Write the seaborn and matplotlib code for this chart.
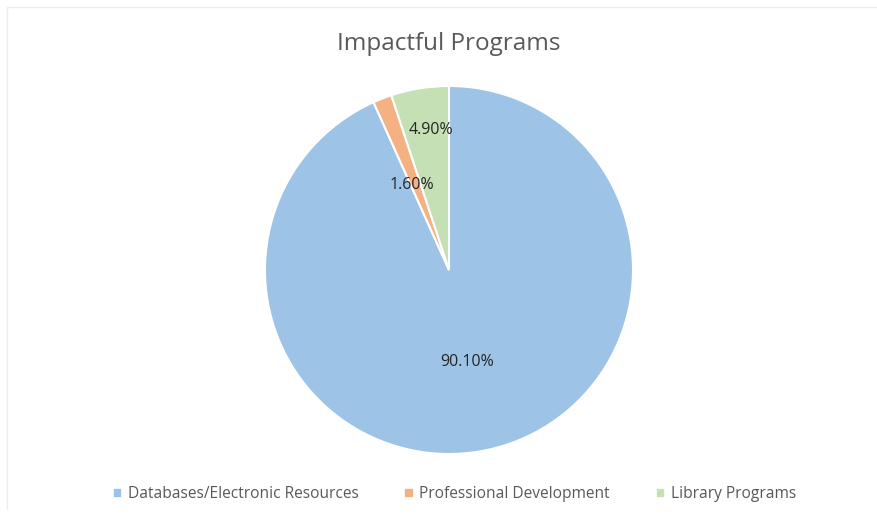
import matplotlib
matplotlib.use("Agg")
import matplotlib.pyplot as plt
import seaborn as sns

# data
programs = ["Databases/Electronic Resources", "Professional Development", "Library Programs"]
shares = [90.10, 1.60, 4.90]
colors = ["#9DC3E6", "#F4B183", "#C5E0B4"]

sns.set_theme(style="white")
plt.rcParams['font.family'] = ['Open Sans', 'DejaVu Sans']

fig = plt.figure(figsize=(8.78, 5.19), dpi=100)
fig.patch.set_facecolor("white")
# faint frame of the exported chart area (top and left only visible)
fig.add_artist(plt.Line2D([0.008, 0.008], [0.02, 0.986], transform=fig.transFigure,
                          color="#EDEDED", linewidth=1))
fig.add_artist(plt.Line2D([0.008, 0.999], [0.986, 0.986], transform=fig.transFigure,
                          color="#EDEDED", linewidth=1))

ax = fig.add_axes([265 / 878, 65 / 519, 368 / 878, 368 / 519])
vals = iter(shares)
wedges, texts, autotexts = ax.pie(shares, colors=colors, startangle=90, counterclock=False,
                                  autopct=lambda p: f"{next(vals):.2f}%", pctdistance=0.55,
                                  wedgeprops=dict(edgecolor="white", linewidth=1.5),
                                  textprops=dict(fontsize=11.5, color="#262626"))
# label placement similar to the original
label_pos = [(0.10, -0.50), (-0.20, 0.46), (-0.10, 0.76)]
for t, p in zip(autotexts, label_pos):
    t.set_position(p)
ax.set_xlim(-1, 1)
ax.set_ylim(-1, 1)
ax.set_aspect("equal")

fig.text(0.511, 0.915, "Impactful Programs", ha="center", va="center", fontsize=17.5, color="#595959")

handles = [plt.Rectangle((0, 0), 1, 1, color=c) for c in colors]
fig.legend(handles, programs, loc="center", bbox_to_anchor=(0.518, 0.048), ncol=3, frameon=False,
           fontsize=11.2, labelcolor="#595959", handlelength=0.4, handleheight=0.4,
           handletextpad=0.5, columnspacing=3.0)

plt.savefig("out.png", dpi=100)
